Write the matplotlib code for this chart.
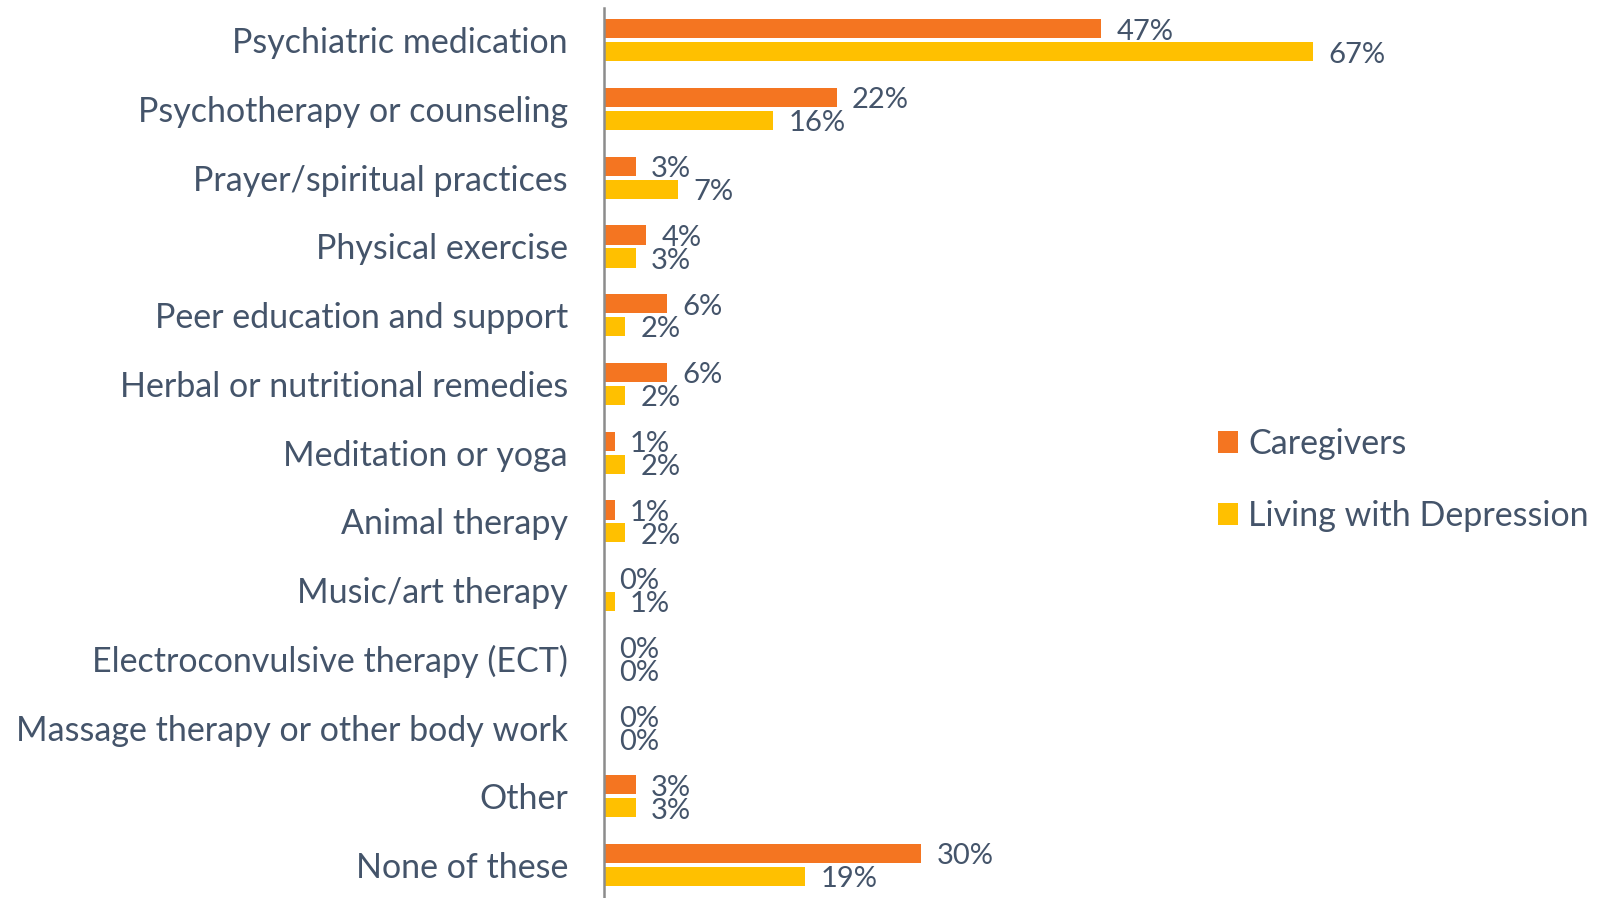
import numpy as np
import matplotlib.pyplot as plt

categories = [
    "Psychiatric medication",
    "Psychotherapy or counseling",
    "Prayer/spiritual practices",
    "Physical exercise",
    "Peer education and support",
    "Herbal or nutritional remedies",
    "Meditation or yoga",
    "Animal therapy",
    "Music/art therapy",
    "Electroconvulsive therapy (ECT)",
    "Massage therapy or other body work",
    "Other",
    "None of these",
]
caregivers = [47, 22, 3, 4, 6, 6, 1, 1, 0, 0, 0, 3, 30]
living_with_depression = [67, 16, 7, 3, 2, 2, 2, 2, 1, 0, 0, 3, 19]

orange = "#F47521"
yellow = "#FFC000"
text_col = "#44546A"

plt.rcParams['font.family'] = ['Lato', 'DejaVu Sans']

fig = plt.figure(figsize=(16.02, 8.98), dpi=100)
ax = fig.add_axes([604 / 1602, 0.0, 1 - 604 / 1602, 1 - 8 / 898])

y = np.arange(len(categories))
h = 0.28
off = 0.167
b1 = ax.barh(y - off, caregivers, height=h, color=orange, label="Caregivers")
b2 = ax.barh(y + off, living_with_depression, height=h, color=yellow,
             label="Living with Depression")

# value labels just past the end of each bar
for bars, vals in ((b1, caregivers), (b2, living_with_depression)):
    for bar, v in zip(bars, vals):
        ax.annotate(f"{v}%", (v, bar.get_y() + bar.get_height() / 2),
                    xytext=(11, -2), textcoords="offset points",
                    va="center", ha="left", fontsize=21, color=text_col)

ax.set_xlim(0, 94.3)
ax.set_ylim(len(categories) - 0.52, -0.47)
ax.set_yticks(y)
ax.set_yticklabels(categories, fontsize=24.5, color=text_col)
ax.tick_params(axis="y", length=0, pad=26)
ax.set_xticks([])
for s in ("top", "right", "bottom"):
    ax.spines[s].set_visible(False)
ax.spines["left"].set_color("#8C8C8C")
ax.spines["left"].set_linewidth(1.8)

leg = fig.legend(handles=[b1, b2], loc="center left",
                 bbox_to_anchor=(1192 / 1568, 0.4655), frameon=False,
                 fontsize=24.5, handlelength=0.6, handleheight=0.6,
                 handletextpad=0.3, labelspacing=1.18, borderpad=0,
                 borderaxespad=0)
for t in leg.get_texts():
    t.set_color(text_col)

fig.savefig("out.png", dpi=100)
